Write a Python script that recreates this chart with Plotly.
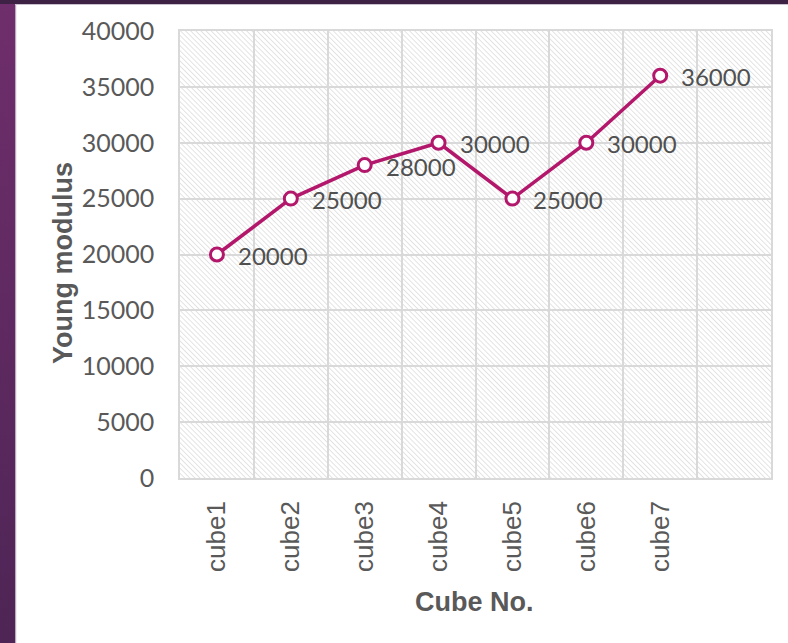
import base64
import plotly.graph_objects as go

# ---- data ----
cubes = ["cube1", "cube2", "cube3", "cube4", "cube5", "cube6", "cube7"]
young_modulus = [20000, 25000, 28000, 30000, 25000, 30000, 36000]
y_ticks = [0, 5000, 10000, 15000, 20000, 25000, 30000, 35000, 40000]

# ---- figure geometry (pixels) ----
W, H = 788, 643
L, R, T, B = 180, 17, 31, 165
PW, PH = W - L - R, H - T - B

LINE_COLOR = "#B3176B"
GRID = "#D9D9D9"
TXT = "#595959"


def px_x(px):
    return (px - L) / PW


def px_y(py):
    return (H - B - py) / PH


def svg_uri(svg):
    return "data:image/svg+xml;base64," + base64.b64encode(svg.encode()).decode()


# purple slide frame (left strip + top bar)
frame_svg = f"""<svg xmlns='http://www.w3.org/2000/svg' width='{W}' height='{H}' viewBox='0 0 {W} {H}'>
<defs><linearGradient id='g' x1='0' y1='0' x2='0' y2='1'>
<stop offset='0' stop-color='#6F2E6C'/><stop offset='1' stop-color='#4E2555'/></linearGradient></defs>
<rect x='0' y='0' width='15' height='{H}' fill='url(#g)'/>
<rect x='15' y='0' width='1.2' height='{H}' fill='#B9A9BC'/>
<rect x='0' y='0' width='{W}' height='4' fill='#3E2245'/>
<rect x='15' y='4' width='{W}' height='1' fill='#C9C2CC'/>
</svg>"""

# diagonal hatch filling the plot area
hatch_svg = f"""<svg xmlns='http://www.w3.org/2000/svg' width='{PW}' height='{PH}' viewBox='0 0 {PW} {PH}'>
<defs><pattern id='h' width='3.6' height='3.6' patternUnits='userSpaceOnUse' patternTransform='rotate(-45)'>
<line x1='0' y1='0' x2='0' y2='3.6' stroke='#D2D2D2' stroke-width='1.2'/></pattern></defs>
<rect width='{PW}' height='{PH}' fill='url(#h)'/>
</svg>"""

fig = go.Figure()

fig.add_trace(go.Scatter(
    x=cubes,
    y=young_modulus,
    mode="lines+markers",
    line=dict(color=LINE_COLOR, width=3.5),
    marker=dict(symbol="circle", size=13, color="white",
                line=dict(color=LINE_COLOR, width=3)),
    cliponaxis=False,
    showlegend=False,
    hoverinfo="skip",
))

# value labels to the right of each point
value_labels = [
    dict(text=f"{v:d}", x=c, y=v, xref="x", yref="y",
         xanchor="left", yanchor="middle", xshift=19, yshift=-1,
         showarrow=False,
         font=dict(family="Lato", size=24, color="#505050"))
    for c, v in zip(cubes, young_modulus)
]

fig.update_layout(
    width=W, height=H, autosize=False,
    margin=dict(l=L, r=R, t=T, b=B, pad=0),
    paper_bgcolor="white",
    plot_bgcolor="rgba(0,0,0,0)",
    images=[
        dict(source=svg_uri(frame_svg), xref="paper", yref="paper",
             x=px_x(0), y=px_y(0), sizex=W / PW, sizey=H / PH,
             xanchor="left", yanchor="top", sizing="stretch", layer="below"),
        dict(source=svg_uri(hatch_svg), xref="paper", yref="paper",
             x=0, y=1, sizex=1, sizey=1,
             xanchor="left", yanchor="top", sizing="stretch", layer="below"),
    ],
    xaxis=dict(
        type="category",
        categoryorder="array", categoryarray=cubes,
        range=[-0.5, 7.5],
        tickson="boundaries",
        showgrid=True, gridcolor=GRID, gridwidth=1.5,
        showline=True, mirror=True, linecolor=GRID, linewidth=1.5,
        ticks="", tickangle=-90, ticklabelstandoff=11,
        tickfont=dict(family="Liberation Sans", size=26, color=TXT),
        zeroline=False,
    ),
    yaxis=dict(
        range=[0, 40000],
        tickvals=y_ticks, tickformat="d",
        showgrid=True, gridcolor=GRID, gridwidth=1.5,
        showline=True, mirror=True, linecolor=GRID, linewidth=1.5,
        ticks="", ticklabelstandoff=19,
        tickfont=dict(family="Lato", size=25, color=TXT),
        zeroline=False,
    ),
    annotations=value_labels + [
        dict(text="<b>Young modulus</b>", xref="paper", yref="paper",
             x=px_x(63), y=px_y(263), xanchor="center", yanchor="middle",
             textangle=-90, showarrow=False,
             font=dict(family="Liberation Sans", size=27, color=TXT)),
        dict(text="<b>Cube No.</b>", xref="paper", yref="paper",
             x=px_x(474), y=px_y(602), xanchor="center", yanchor="middle",
             showarrow=False,
             font=dict(family="Liberation Sans", size=27, color=TXT)),
    ],
)

fig.write_html("out.html")
